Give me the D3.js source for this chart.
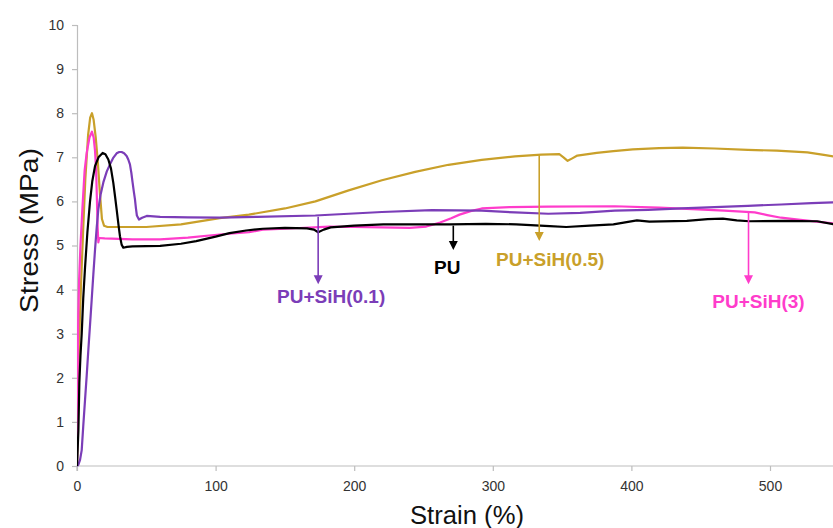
<!DOCTYPE html>
<html>
<head>
<meta charset="utf-8">
<script src="https://cdn.jsdelivr.net/npm/d3@7"></script>
<style>
  html, body { margin: 0; padding: 0; background: #fff; }
  svg { display: block; font-family: "Liberation Sans", Arial, sans-serif; }
</style>
</head>
<body>
<svg id="chart" width="833" height="528"></svg>
<script>
// ---------- data (strain %, stress MPa) ----------
const seriesNames = ["PU", "PU+SiH(0.1)", "PU+SiH(0.5)", "PU+SiH(3)"];

const puData = [[0,0],[0.5,0.4],[1,0.8],[1.7,1.9],[2.5,2.5],[3.4,3.0],[4.5,3.8],[5.8,4.5],[7.5,5.3],[9.4,6.0],[11,6.45],[13,6.8],[15.5,7.0],[18.5,7.1],[20.5,7.07],[22.6,6.95],[24.5,6.75],[26.2,6.42],[27.5,6.1],[28.6,5.82],[30,5.45],[31,5.21],[32.2,5.02],[33.4,4.95],[36,4.97],[40,4.98],[60,4.99],[75,5.04],[86,5.1],[100,5.2],[110,5.28],[122,5.34],[134,5.38],[150,5.4],[166,5.39],[171,5.36],[174,5.3],[178,5.36],[183,5.41],[200,5.45],[221,5.48],[245,5.48],[269,5.48],[295,5.49],[317,5.48],[341,5.44],[353,5.42],[370,5.45],[387,5.48],[404,5.57],[413,5.54],[440,5.56],[455,5.6],[466,5.61],[476,5.57],[485,5.55],[510,5.56],[534,5.55],[546,5.48]];

const sih01Data = [[0,0],[1,0.03],[2.2,0.14],[3.4,0.36],[4.5,0.9],[5.8,1.5],[7,2.05],[8.2,2.64],[9.4,3.2],[10.6,3.77],[11.8,4.35],[13,4.9],[14.2,5.4],[15.4,5.82],[17,6.15],[19,6.43],[21.5,6.68],[23.8,6.84],[26,6.98],[28.6,7.09],[30.5,7.12],[32.2,7.12],[34,7.09],[35.8,7.03],[37,6.95],[38.2,6.84],[39.2,6.65],[40.1,6.43],[41,6.22],[41.8,6.05],[42.5,5.85],[43.2,5.68],[44.7,5.59],[47,5.63],[50.3,5.67],[60,5.65],[80,5.64],[103,5.63],[130,5.65],[172,5.68],[196,5.72],[220,5.76],[256,5.8],[292,5.79],[316,5.75],[340,5.72],[363,5.74],[388,5.79],[412,5.81],[436,5.84],[460,5.87],[484,5.9],[508,5.93],[530,5.96],[546,5.98]];

const sih05Data = [[0,0],[0.5,1.4],[1.5,2.8],[3,4.2],[4.5,5.4],[6,6.5],[8,7.5],[9.5,7.9],[10.8,8.0],[12,7.85],[13.5,7.45],[15,6.9],[16.5,6.2],[18,5.6],[19.5,5.45],[22,5.42],[35,5.42],[50,5.42],[75,5.48],[103,5.62],[124,5.7],[150,5.84],[172,6.0],[196,6.25],[220,6.48],[244,6.67],[268,6.83],[292,6.94],[316,7.02],[335,7.06],[348,7.07],[351,7.0],[354,6.92],[357,6.97],[361,7.04],[375,7.1],[387,7.14],[401,7.18],[420,7.21],[437,7.22],[460,7.2],[484,7.17],[505,7.15],[527,7.11],[540,7.05],[546,7.02]];

const sih3Data = [[0,0],[0.3,1.0],[0.6,2.5],[0.9,3.4],[1.5,4.2],[2.5,5.0],[4,5.9],[5.5,6.7],[7,7.1],[9,7.45],[10.8,7.58],[12,7.45],[13,7.15],[13.8,6.7],[14.4,6.0],[14.9,5.4],[15.4,5.07],[16,5.17],[20,5.16],[40,5.14],[60,5.14],[80,5.18],[103,5.25],[124,5.3],[134,5.36],[150,5.38],[182,5.43],[200,5.42],[220,5.41],[240,5.4],[252,5.43],[262,5.52],[270,5.62],[276,5.7],[284,5.78],[292,5.84],[312,5.87],[340,5.88],[388,5.89],[420,5.86],[448,5.82],[467,5.79],[489,5.75],[498,5.69],[508,5.63],[522,5.58],[537,5.53],[546,5.5]];

const xTicks = [0, 100, 200, 300, 400, 500];
const yTicks = [0, 1, 2, 3, 4, 5, 6, 7, 8, 9, 10];

// annotations: label, strain at arrow, stress at arrow start, stress at arrow tip
const annLabels = ["PU+SiH(0.1)", "PU", "PU+SiH(0.5)", "PU+SiH(3)"];
const annStrain = [174, 271.5, 333.5, 484.5];
const annFrom = [5.65, 5.45, 7.05, 5.75];
const annTo = [4.12, 4.9, 5.1, 4.12];

// ---------- styles ----------
const colors = {"PU": "#000000", "PU+SiH(0.1)": "#7B3DB8", "PU+SiH(0.5)": "#C9A02A", "PU+SiH(3)": "#FF3CCB"};
const seriesData = {"PU": puData, "PU+SiH(0.1)": sih01Data, "PU+SiH(0.5)": sih05Data, "PU+SiH(3)": sih3Data};
const drawOrder = ["PU+SiH(0.5)", "PU+SiH(3)", "PU+SiH(0.1)", "PU"];
// label offsets relative to arrow tip (px): dx to label center, dy to baseline
const annOffsets = [[13, 19], [-6, 24], [11, 25], [10, 24]];

const W = 833, H = 528;
const x0 = 77, x1 = 833, yTop = 25, yBot = 466;

const x = d3.scaleLinear().domain([0, 500]).range([x0, 770]);
const y = d3.scaleLinear().domain([0, 10]).range([yBot, yTop]);

const svg = d3.select("#chart");

svg.append("defs").append("clipPath").attr("id", "plotclip")
  .append("rect").attr("x", x0).attr("y", 0).attr("width", x1 - x0).attr("height", yBot + 1);

// axes
const axisColor = "#bdbdbd";
const gy = svg.append("g").attr("transform", `translate(${x0},0)`)
  .call(d3.axisLeft(y).tickValues(yTicks).tickSize(5).tickPadding(8).tickFormat(d3.format("d")));
const gx = svg.append("g").attr("transform", `translate(0,${yBot})`)
  .call(d3.axisBottom(x).tickValues(xTicks).tickSize(5).tickPadding(10).tickFormat(d3.format("d")));
[gx, gy].forEach(g => {
  g.select(".domain").attr("stroke", axisColor).attr("stroke-width", 1.2);
  g.selectAll(".tick line").attr("stroke", axisColor).attr("stroke-width", 1.2);
  g.selectAll(".tick text").attr("fill", "#333").attr("font-size", 14)
    .attr("font-family", "'Liberation Sans', Arial, sans-serif");
});
// extend x-axis domain to right edge
gx.select(".domain").attr("d", `M${x0},5V0H${x1}`);

// lines
const line = d3.line().x(d => x(d[0])).y(d => y(d[1])).curve(d3.curveMonotoneX);
const plot = svg.append("g").attr("clip-path", "url(#plotclip)");
drawOrder.forEach(name => {
  plot.append("path")
    .datum(seriesData[name])
    .attr("fill", "none")
    .attr("stroke", colors[name])
    .attr("stroke-width", 2.2)
    .attr("stroke-linejoin", "round")
    .attr("d", d3.line().x(d => x(d[0])).y(d => y(d[1])));
});

// annotations
const annColorKey = ["PU+SiH(0.1)", "PU", "PU+SiH(0.5)", "PU+SiH(3)"];
annLabels.forEach((lab, i) => {
  const c = colors[annColorKey[i]];
  const ax = x(annStrain[i]);
  const ya = y(annFrom[i]);
  const yt = y(annTo[i]);
  const head = 9, hw = 4.5;
  svg.append("line").attr("x1", ax).attr("x2", ax).attr("y1", ya).attr("y2", yt - head + 1)
    .attr("stroke", c).attr("stroke-width", 1.6);
  svg.append("path")
    .attr("d", `M${ax - hw},${yt - head}L${ax + hw},${yt - head}L${ax},${yt}Z`)
    .attr("fill", c);
  svg.append("text")
    .attr("x", ax + annOffsets[i][0]).attr("y", yt + annOffsets[i][1])
    .attr("text-anchor", "middle")
    .attr("font-size", 19).attr("font-weight", "bold")
    .attr("fill", c)
    .text(lab);
});

// axis titles
svg.append("text")
  .attr("transform", `translate(38,${230.5}) rotate(-90)`)
  .attr("text-anchor", "middle")
  .attr("font-size", 25)
  .attr("fill", "#111")
  .attr("textLength", 165).attr("lengthAdjust", "spacingAndGlyphs")
  .text("Stress (MPa)");
svg.append("text")
  .attr("x", 467).attr("y", 524)
  .attr("text-anchor", "middle")
  .attr("font-size", 25)
  .attr("fill", "#111")
  .attr("textLength", 114).attr("lengthAdjust", "spacingAndGlyphs")
  .text("Strain (%)");
</script>
</body>
</html>
